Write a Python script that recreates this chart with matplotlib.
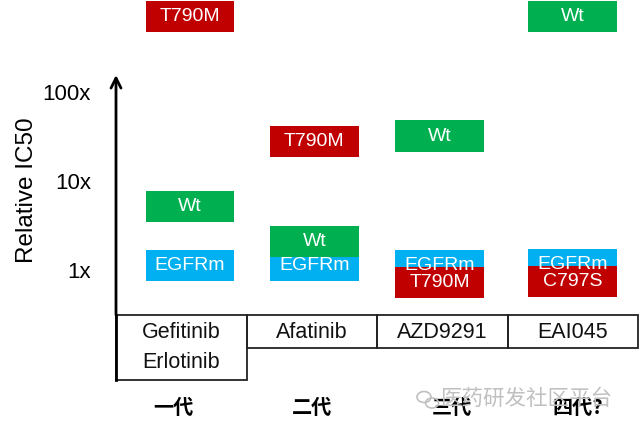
import matplotlib
matplotlib.use("Agg")
import matplotlib.pyplot as plt
from matplotlib.patches import Rectangle, Ellipse

plt.rcParams['font.family'] = ['Liberation Sans', 'Noto Sans CJK SC', 'DejaVu Sans']
CJK = ['Noto Sans CJK SC', 'DejaVu Sans']

# data
drugs = ["Gefitinib\nErlotinib", "Afatinib", "AZD9291", "EAI045"]
generations = ["一代", "二代", "三代", "四代?"]
box_labels = [["EGFRm", "Wt", "T790M"],
              ["EGFRm", "Wt", "T790M"],
              ["EGFRm", "T790M", "Wt"],
              ["EGFRm", "C797S", "Wt"]]
box_values = [[1.12, 5.2, 700],
              [1.12, 2.1, 28],
              [1.12, 0.73, 32],
              [1.15, 0.74, 700]]
yticks = [1, 10, 100]
ytick_labels = ["1x", "10x", "100x"]

colors = {"EGFRm": "#00B0F0", "Wt": "#00B050", "T790M": "#C00000", "C797S": "#C00000"}

# layout
box_x = [0.567, 1.52, 2.48, 3.50]
box_w = 0.68
half = 10 ** 0.175          # half box height in decades
gen_x = [0.437, 1.50, 2.575, 3.54]

fig = plt.figure(figsize=[6.4, 4.34], dpi=100)
left, width = 116 / 640, (638 - 116) / 640
ax = fig.add_axes([left, (434 - 315) / 434, width, 315 / 434])
ax.set_yscale('log')
ax.set_ylim(10 ** (-45 / 89), 10 ** (270 / 89))
ax.set_xlim(0, 4)
for s in ax.spines.values():
    s.set_visible(False)
ax.set_xticks([])
ax.set_yticks(yticks)
ax.set_yticklabels(ytick_labels, fontsize=16)
ax.yaxis.set_minor_locator(matplotlib.ticker.NullLocator())
ax.tick_params(axis='y', length=0, pad=18)
ax.set_ylabel("Relative IC50", fontsize=17.5)
ax.yaxis.set_label_coords(-0.15, 0.397)

for i in range(len(drugs)):
    for lab, v in zip(box_labels[i], box_values[i]):
        ax.bar(box_x[i], v * half - v / half, width=box_w, bottom=v / half,
               color=colors[lab], clip_on=False, zorder=2)
        ax.text(box_x[i], v, lab, ha='center', va='center', color='white',
                fontsize=14, zorder=3, clip_on=False)

# axis arrow
ax.annotate("", xy=(0, 0.762), xytext=(0, 0), xycoords='axes fraction',
            arrowprops=dict(arrowstyle='->', lw=2, color='black', mutation_scale=18,
                            shrinkA=0, shrinkB=0))

# table of drug names
tab = fig.add_axes([left, (434 - 380) / 434, width, 65 / 434])
tab.set_xlim(0, 4)
tab.set_ylim(0, 2)
tab.axis('off')
tab.add_patch(Rectangle((0, 0), 1, 2, fill=False, lw=1.3, ec='#222222', clip_on=False))
tab.plot([0, 0], [0, 2], color='black', lw=2, clip_on=False)
for i in range(1, len(drugs)):
    tab.add_patch(Rectangle((i, 1), 1, 1, fill=False, lw=1.3, ec='#222222', clip_on=False))
for i, name in enumerate(drugs):
    for j, ln in enumerate(name.split("\n")):
        tab.text(i + 0.5, 1.45 - 0.9 * j, ln, ha='center', va='center',
                 fontsize=15.5, color='#111111')

# watermark (drawn under the generation labels)
fig.text(441 / 640, 1 - 399 / 434, "医药研发社区平台", ha='left', va='center',
         fontsize=15.5, color='#c0c0c0', family=CJK)
fig.add_artist(Ellipse((424 / 640, 1 - 397 / 434), 14 / 640, 11 / 434, fill=False,
                       ec='#c0c0c0', lw=1.2))
fig.add_artist(Ellipse((432 / 640, 1 - 403 / 434), 13 / 640, 10 / 434, fill=False,
                       ec='#c0c0c0', lw=1.2))

for i, g in enumerate(generations):
    tab.text(gen_x[i], -0.85, g, ha='center', va='center', fontsize=14.5,
             color='black', family=CJK, fontweight='bold', zorder=5)

fig.savefig("out.png", dpi=100)
